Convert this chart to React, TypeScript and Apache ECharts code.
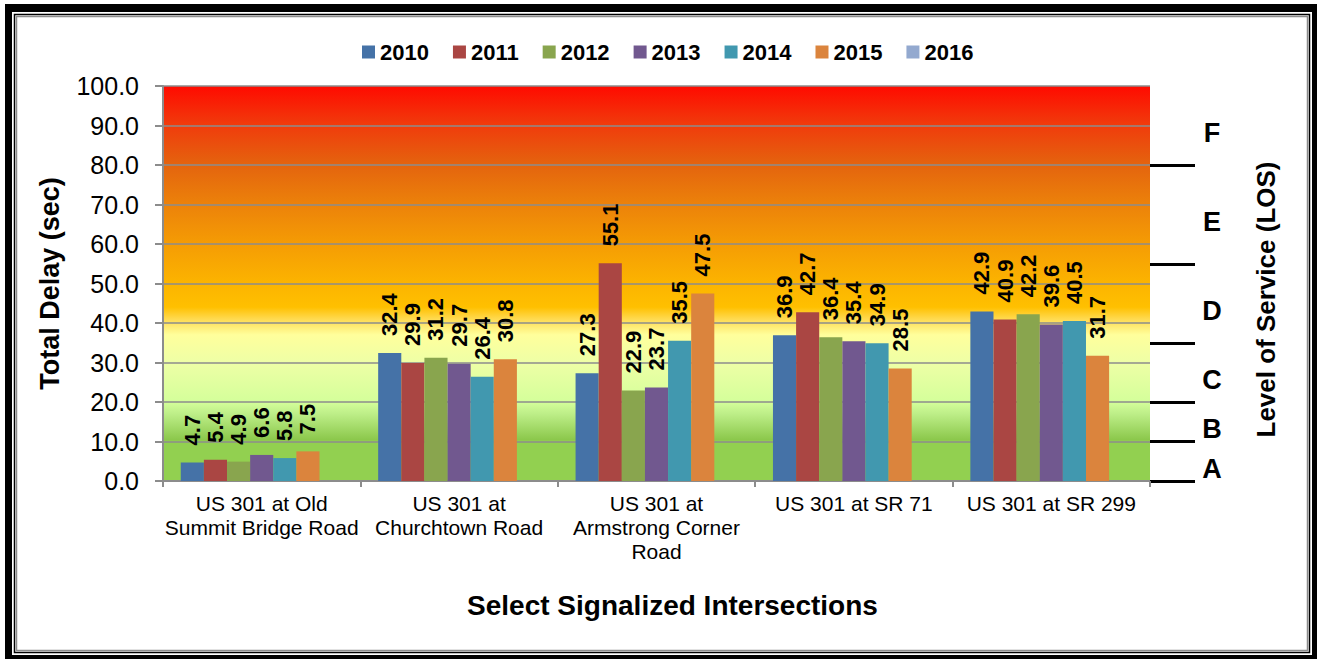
import React, { useEffect, useRef } from "react";
import * as echarts from "echarts";

// Intersections along US 301 (x axis categories)
const categories = [
  "US 301 at Old\nSummit Bridge Road",
  "US 301 at\nChurchtown Road",
  "US 301 at\nArmstrong Corner\nRoad",
  "US 301 at SR 71",
  "US 301 at SR 299",
];

const years = ["2010", "2011", "2012", "2013", "2014", "2015", "2016"];

// Total delay in seconds, one array per study year
const delay2010 = [4.7, 32.4, 27.3, 36.9, 42.9];
const delay2011 = [5.4, 29.9, 55.1, 42.7, 40.9];
const delay2012 = [4.9, 31.2, 22.9, 36.4, 42.2];
const delay2013 = [6.6, 29.7, 23.7, 35.4, 39.6];
const delay2014 = [5.8, 26.4, 35.5, 34.9, 40.5];
const delay2015 = [7.5, 30.8, 47.5, 28.5, 31.7];
const delay2016: (number | null)[] = [null, null, null, null, null];

const seriesValues = [delay2010, delay2011, delay2012, delay2013, delay2014, delay2015, delay2016];

const yearColors = ["#4572A7", "#AA4643", "#89A54E", "#71588F", "#4198AF", "#DB843D", "#93A9CF"];

// Level of service thresholds (sec) and grades
const losBounds = [0, 10, 20, 35, 55, 80, 100];
const losGrades = ["A", "B", "C", "D", "E", "F"];

const FONT = 'Arial, "Liberation Sans", sans-serif';

export default function App() {
  const ref = useRef<HTMLDivElement>(null);

  useEffect(() => {
    if (!ref.current) return;
    const chart = echarts.init(ref.current, undefined, { renderer: "svg" });

    const losMid = losGrades.map((_, i) => (losBounds[i] + losBounds[i + 1]) / 2);
    const gradeAt = (v: number) => {
      const i = losMid.findIndex((m) => Math.abs(m - v) < 1e-6);
      return i >= 0 ? losGrades[i] : "";
    };

    const background = new echarts.graphic.LinearGradient(0, 0, 0, 1, [
      { offset: 0, color: "#FF0A00" },
      { offset: 0.1, color: "#F03C0C" },
      { offset: 0.2, color: "#E4640E" },
      { offset: 0.3, color: "#EC820A" },
      { offset: 0.4, color: "#F59C04" },
      { offset: 0.5, color: "#FCB400" },
      { offset: 0.56, color: "#FFC000" },
      { offset: 0.59, color: "#FFDA50" },
      { offset: 0.63, color: "#FFFF9C" },
      { offset: 0.7, color: "#EEFFA6" },
      { offset: 0.8, color: "#D4FF9A" },
      { offset: 0.83, color: "#BDEE88" },
      { offset: 0.895, color: "#8CC84C" },
      { offset: 0.9, color: "#92D050" },
      { offset: 1, color: "#92D050" },
    ]);

    const option: any = {
      animation: false,
      backgroundColor: "#ffffff",
      color: yearColors,
      textStyle: { fontFamily: FONT },
      legend: {
        data: years,
        left: 357,
        top: 36,
        icon: "rect",
        itemWidth: 13,
        itemHeight: 13,
        itemGap: 24,
        textStyle: { fontFamily: FONT, fontSize: 22, fontWeight: "bold", color: "#000" },
      },
      grid: {
        left: 163,
        right: 167,
        top: 86,
        bottom: 178,
        show: true,
        backgroundColor: background,
        borderWidth: 0,
        containLabel: false,
        outerBoundsMode: "none",
      },
      xAxis: {
        type: "category",
        data: categories,
        name: "Select Signalized Intersections",
        nameLocation: "middle",
        nameGap: 110,
        nameTextStyle: {
          fontFamily: FONT,
          fontSize: 28,
          fontWeight: "bold",
          color: "#000",
          padding: [0, 0, 0, 32],
        },
        axisLine: { show: true, lineStyle: { color: "#8c8c8c", width: 2 } },
        axisTick: { show: true, length: 6, lineStyle: { color: "#8c8c8c", width: 2 } },
        axisLabel: {
          interval: 0,
          margin: 10,
          fontFamily: FONT,
          fontSize: 21,
          lineHeight: 24,
          color: "#000",
        },
        splitLine: { show: false },
      },
      yAxis: [
        {
          type: "value",
          min: 0,
          max: 100,
          interval: 10,
          name: "Total Delay (sec)",
          nameLocation: "middle",
          nameRotate: 90,
          nameGap: 100,
          nameTextStyle: { fontFamily: FONT, fontSize: 27, fontWeight: "bold", color: "#000" },
          axisLine: { show: true, lineStyle: { color: "#8c8c8c", width: 2 } },
          axisTick: { show: true, length: 8, lineStyle: { color: "#8c8c8c", width: 2 } },
          axisLabel: {
            margin: 24,
            fontFamily: FONT,
            fontSize: 25,
            color: "#000",
            formatter: (v: number) => v.toFixed(1),
          },
          splitLine: { show: true, lineStyle: { color: "#8c8c8c", width: 1.6 } },
        },
        {
          type: "value",
          position: "right",
          min: 0,
          max: 100,
          name: "Level of Service (LOS)",
          nameLocation: "middle",
          nameRotate: 90,
          nameGap: 103,
          nameTextStyle: {
            fontFamily: FONT,
            fontSize: 26,
            fontWeight: "bold",
            color: "#000",
            padding: [0, 32, 0, 0],
          },
          axisLine: { show: false },
          axisTick: {
            show: true,
            inside: false,
            length: 45,
            customValues: losBounds.slice(0, 6),
            lineStyle: { color: "#000", width: 3 },
          },
          axisLabel: {
            show: true,
            customValues: losMid,
            margin: 62,
            align: "center",
            verticalAlign: "top",
            lineHeight: 15,
            fontFamily: FONT,
            fontSize: 27,
            fontWeight: "bold",
            color: "#000",
            formatter: (v: number) => gradeAt(v),
          },
          splitLine: { show: false },
        },
      ],
      series: years.map((y, i) => ({
        name: y,
        type: "bar",
        data: seriesValues[i],
        barGap: "0%",
        barCategoryGap: "18%",
        itemStyle: { color: yearColors[i] },
        label: {
          show: true,
          position: "top",
          rotate: 90,
          align: "left",
          verticalAlign: "middle",
          distance: 17,
          fontFamily: FONT,
          fontSize: 22,
          fontWeight: "bold",
          color: "#000",
          formatter: (p: any) => (p.value == null ? "" : Number(p.value).toFixed(1)),
        },
      })),
      graphic: [
        // heavy outer frame
        { type: "rect", shape: { x: 5, y: 4, width: 1312, height: 8 }, style: { fill: "#000" }, silent: true },
        { type: "rect", shape: { x: 5, y: 655, width: 1312, height: 4 }, style: { fill: "#000" }, silent: true },
        { type: "rect", shape: { x: 5, y: 4, width: 7, height: 655 }, style: { fill: "#000" }, silent: true },
        { type: "rect", shape: { x: 1312, y: 4, width: 5, height: 655 }, style: { fill: "#000" }, silent: true },
        // thin inner lines
        {
          type: "rect",
          shape: { x: 14.5, y: 14.5, width: 1295, height: 638 },
          style: { fill: "none", stroke: "#000", lineWidth: 1.5 },
          silent: true,
        },
        {
          type: "rect",
          shape: { x: 16.5, y: 16.5, width: 1291, height: 634 },
          style: { fill: "none", stroke: "#8c8c8c", lineWidth: 1.5 },
          silent: true,
        },
      ],
    };

    chart.setOption(option);
    return () => chart.dispose();
  }, []);

  return (
    <div
      ref={ref}
      style={{ position: "fixed", left: 0, top: 0, width: 1317, height: 659, background: "#fff" }}
    />
  );
}
